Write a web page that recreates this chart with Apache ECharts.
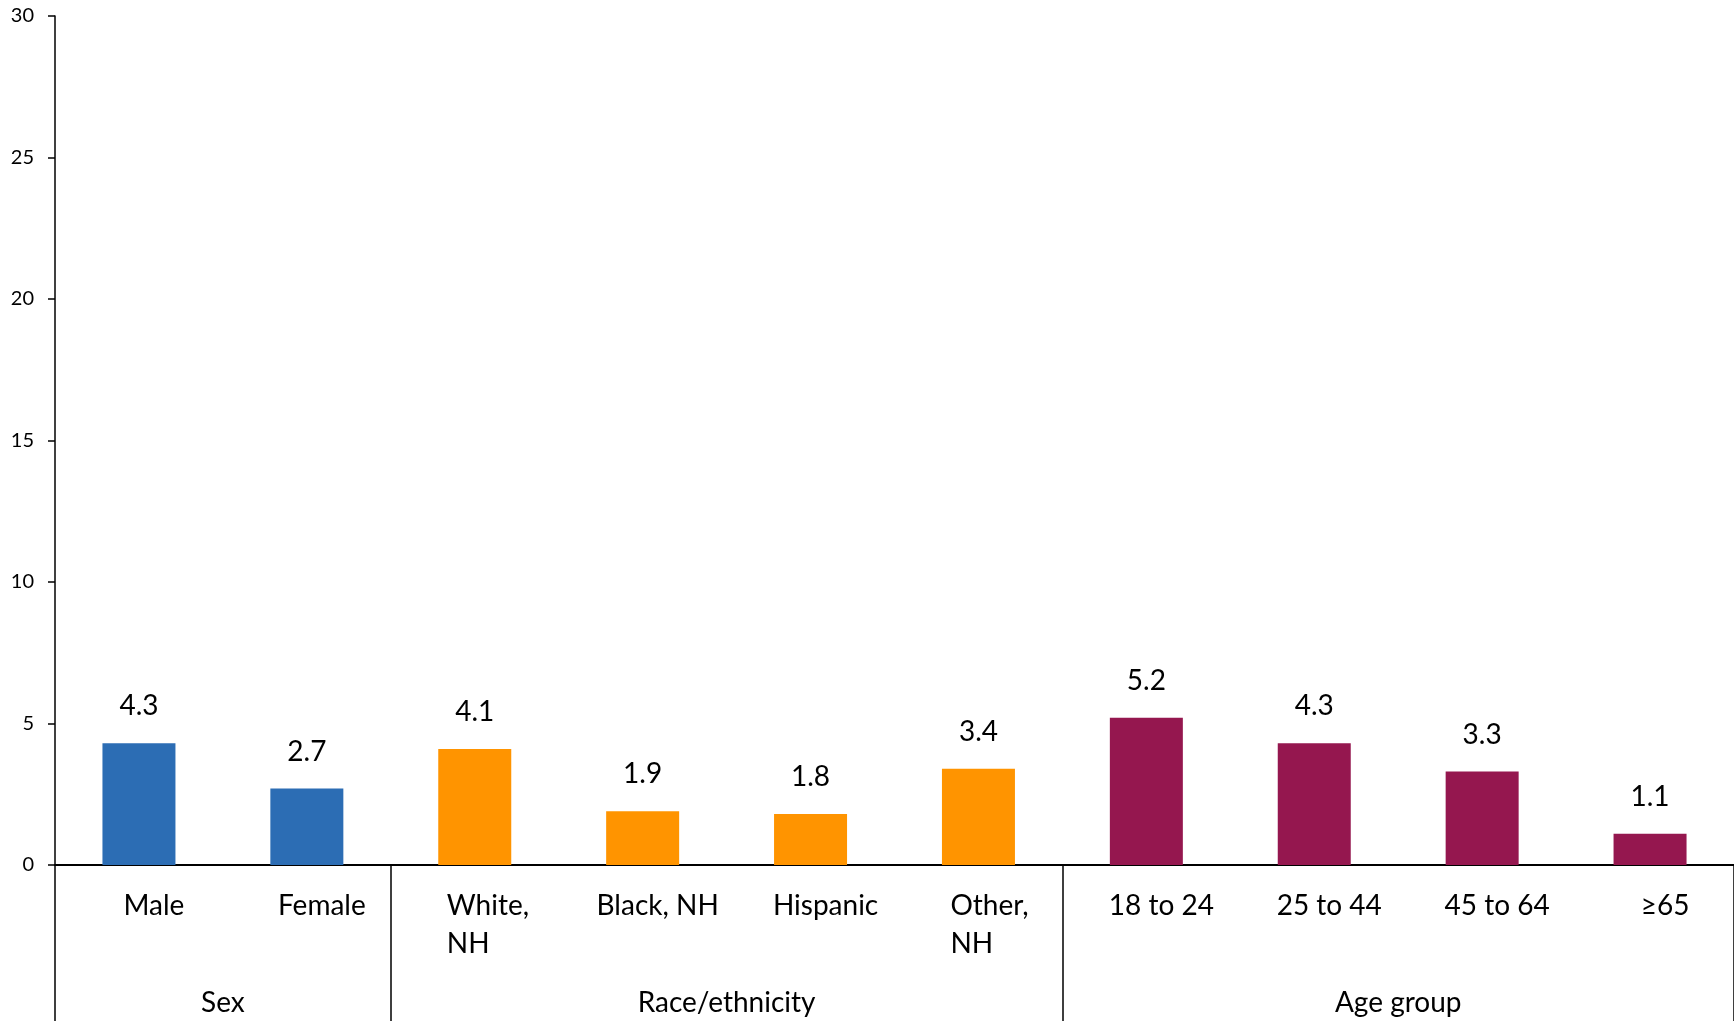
<!DOCTYPE html>
<html>
<head>
<meta charset="utf-8">
<script src="https://cdn.jsdelivr.net/npm/echarts@6/dist/echarts.min.js"></script>
<style>
  html, body { margin: 0; padding: 0; background: #fff; }
  #chart { width: 1734px; height: 1021px; }
</style>
</head>
<body>
<div id="chart"></div>
<script>
const categories = ['Male', 'Female', 'White,\nNH', 'Black, NH', 'Hispanic', 'Other,\nNH', '18 to 24', '25 to 44', '45 to 64', '≥65'];
const values = [4.3, 2.7, 4.1, 1.9, 1.8, 3.4, 5.2, 4.3, 3.3, 1.1];
const groupNames = ['Sex', 'Race/ethnicity', 'Age group'];
const groupSizes = [2, 4, 4];
const groupColors = ['#2C6DB4', '#FF9400', '#95174F'];
const yTicks = [0, 5, 10, 15, 20, 25, 30];

// derive group boundaries / centers in category units
const boundaries = [0];
groupSizes.forEach(s => boundaries.push(boundaries[boundaries.length - 1] + s));
const centers = groupSizes.map((s, i) => boundaries[i] + s / 2);
const barColors = [];
groupSizes.forEach((s, i) => { for (let k = 0; k < s; k++) barColors.push(groupColors[i]); });

const FONT = 'Lato';
const chart = echarts.init(document.getElementById('chart'), null, { renderer: 'canvas' });

chart.setOption({
  backgroundColor: '#ffffff',
  animation: false,
  textStyle: { fontFamily: FONT, color: '#000' },
  grid: { left: 55, top: 16, width: 1680, bottom: 156, containLabel: false },
  xAxis: [
    {
      type: 'category',
      data: categories,
      boundaryGap: true,
      axisLine: { show: true, lineStyle: { color: '#000', width: 2 } },
      axisTick: { show: false },
      splitLine: { show: false },
      axisLabel: {
        interval: 0,
        margin: 22,
        padding: [0, 0, 0, 30],
        fontFamily: FONT,
        fontSize: 28,
        color: '#000',
        lineHeight: 38,
        formatter: function (v) {
          if (v.indexOf('\n') >= 0) {
            return v.split('\n').map(s => '{l|' + s + '}').join('\n');
          }
          return v;
        },
        rich: {
          l: { align: 'left', width: 86, fontFamily: FONT, fontSize: 28, lineHeight: 38, color: '#000' }
        }
      }
    },
    {
      type: 'value',
      min: 0,
      max: 10,
      position: 'bottom',
      axisLine: { show: false },
      splitLine: { show: false },
      axisTick: {
        show: true,
        customValues: boundaries,
        length: 160,
        lineStyle: { color: '#000', width: 1.5 }
      },
      axisLabel: {
        show: true,
        customValues: centers,
        margin: 124,
        fontFamily: FONT,
        fontSize: 28,
        color: '#000',
        formatter: function (v) {
          const i = centers.indexOf(v);
          return i >= 0 ? groupNames[i] : '';
        }
      }
    }
  ],
  yAxis: {
    type: 'value',
    min: 0,
    max: 30,
    interval: 5,
    axisLine: { show: true, lineStyle: { color: '#000', width: 1.5 } },
    axisTick: { show: true, inside: false, length: 7, lineStyle: { color: '#000', width: 1.5 } },
    splitLine: { show: false },
    axisLabel: {
      margin: 21,
      fontFamily: FONT,
      fontSize: 20,
      color: '#000',
      formatter: function (v) { return yTicks.indexOf(v) >= 0 ? String(v) : ''; }
    }
  },
  series: [
    {
      type: 'bar',
      xAxisIndex: 0,
      barWidth: 73,
      data: values.map((v, i) => ({ value: v, itemStyle: { color: barColors[i] } })),
      label: {
        show: true,
        position: 'top',
        distance: 23,
        fontFamily: FONT,
        fontSize: 28,
        color: '#000',
        formatter: p => p.value.toFixed(1)
      }
    }
  ]
});
</script>
</body>
</html>
